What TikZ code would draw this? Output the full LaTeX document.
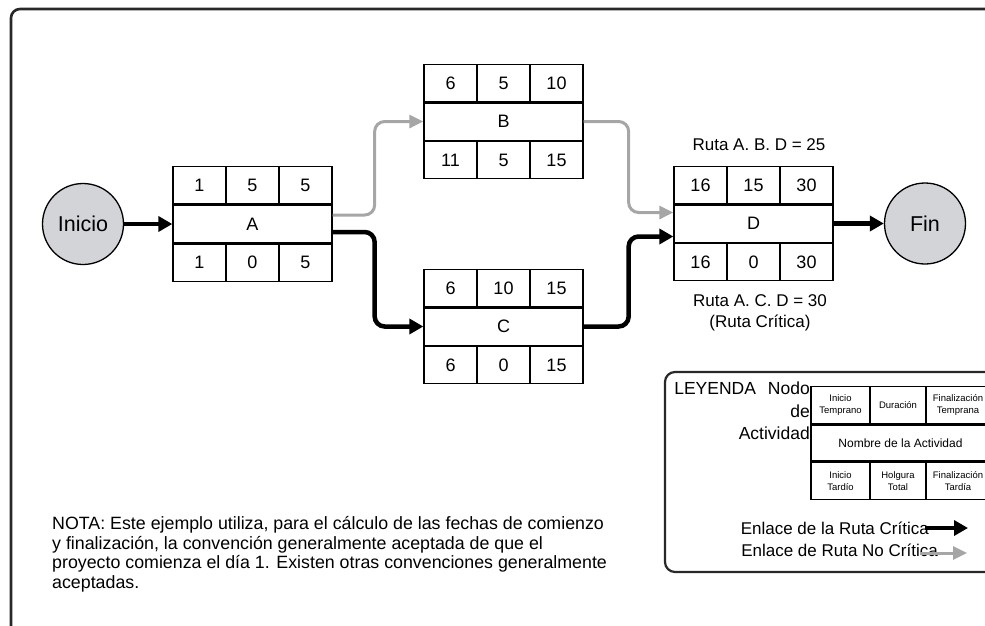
\documentclass[tikz,border=0pt]{standalone}
\usepackage{fontspec}
\setmainfont{Liberation Sans}
\usetikzlibrary{arrows.meta}

\definecolor{circfill}{RGB}{211,212,216}
\definecolor{ncgray}{RGB}{166,166,166}
\definecolor{framecol}{RGB}{40,40,40}

\tikzset{
  cell/.style={draw, line width=1.3pt, minimum width=53pt, minimum height=37.3pt, inner sep=0pt, font=\fontsize{18}{21}\selectfont},
  namecell/.style={cell, minimum width=159pt},
  lcell/.style={draw, line width=1.3pt, minimum height=37pt, inner sep=0pt, align=center, font=\fontsize{9.5}{12}\selectfont},
  event/.style={circle, draw, line width=1.3pt, fill=circfill, minimum size=81pt, inner sep=0pt, font=\fontsize{21.5}{24}\selectfont},
  crit/.style={line width=4.5pt, rounded corners=10pt, -{Triangle[length=14pt,width=15pt]}},
  noncrit/.style={line width=3pt, draw=ncgray, rounded corners=10pt, -{Triangle[length=14pt,width=13pt]}},
  lbl/.style={font=\fontsize{17}{21}\selectfont, inner sep=0pt},
  outerframe/.style={draw=framecol, line width=2.6pt, rounded corners=9pt},
  legframe/.style={draw=framecol, line width=2.2pt, rounded corners=10pt},
}

% name, (x,y), top1, top2, top3, label, bot1, bot2, bot3
\newcommand{\actbox}[9]{%
  \node[namecell] (#1) at #2 {#6};
  \node[cell, anchor=south west] (#1-es) at (#1.north west) {#3};
  \node[cell, anchor=south] (#1-du) at (#1.north) {#4};
  \node[cell, anchor=south east] (#1-ef) at (#1.north east) {#5};
  \node[cell, anchor=north west] (#1-ls) at (#1.south west) {#7};
  \node[cell, anchor=north] (#1-ht) at (#1.south) {#8};
  \node[cell, anchor=north east] (#1-lf) at (#1.south east) {#9};
}

\begin{document}
\begin{tikzpicture}[x=1pt,y=-1pt]
\useasboundingbox (0,0) rectangle (985,625);
\clip (0,0) rectangle (985,625);
\draw[outerframe] (11,9) rectangle (1010,650);

% events
\node[event] (inicio) at (83,224) {Inicio};
\node[event] (fin) at (925,223.5) {Fin};

% activities
\actbox{A}{(252.5,224)}{1}{5}{5}{A}{1}{0}{5}
\actbox{B}{(503.5,121.5)}{6}{5}{10}{B}{11}{5}{15}
\actbox{C}{(503.5,326.5)}{6}{10}{15}{C}{6}{0}{15}
\actbox{D}{(753.5,223.5)}{16}{15}{30}{D}{16}{0}{30}

% links
\draw[crit] (inicio.east) -- (A.west);
\draw[noncrit] ([yshift=9pt]A.east) -- ++(42,0) |- (B.west);
\draw[crit] ([yshift=-8pt]A.east) -- ++(42,0) |- (C.west);
\draw[noncrit] (B.east) -- ++(45,0) |- ([yshift=11pt]D.west);
\draw[crit] (C.east) -- ++(45,0) |- ([yshift=-13pt]D.west);
\draw[crit] (D.east) -- (fin.west);

% route labels
\node[lbl] (rutaB) at (759,145) {Ruta A. B. D = 25};
\node[lbl, align=center] (rutaC) at (760,312.5) {Ruta A. C. D = 30\\(Ruta Crítica)};

% note
\node[lbl, align=left, anchor=north west, font=\fontsize{17.8}{19.8}\selectfont] (nota) at (52,516)
  {NOTA: Este ejemplo utiliza, para el cálculo de las fechas de comienzo\\
   y finalización, la convención generalmente aceptada de que el\\
   proyecto comienza el día 1. Existen otras convenciones generalmente\\
   aceptadas.};

% legend
\draw[legframe] (665,372) rectangle (1010,572);
\node[lbl, align=right, anchor=north east, font=\fontsize{17.5}{22.5}\selectfont] (leglbl) at (810,382)
  {LEYENDA\hspace{12pt}Nodo\\de\\Actividad};
\node[lcell, minimum width=179pt, minimum height=36pt, font=\fontsize{12}{14}\selectfont] (leg) at (900.5,443) {Nombre de la Actividad};
\node[lcell, minimum width=59pt, anchor=south west] (leg-es) at (leg.north west) {Inicio\\Temprano};
\node[lcell, minimum width=56pt, anchor=south west] (leg-du) at ([xshift=59pt]leg.north west) {Duración};
\node[lcell, minimum width=64pt, anchor=south east] (leg-ef) at (leg.north east) {Finalización\\Temprana};
\node[lcell, minimum width=59pt, anchor=north west] (leg-ls) at (leg.south west) {Inicio\\Tardío};
\node[lcell, minimum width=56pt, anchor=north west] (leg-ht) at ([xshift=59pt]leg.south west) {Holgura\\Total};
\node[lcell, minimum width=64pt, anchor=north east] (leg-lf) at (leg.south east) {Finalización\\Tardía};

\node[lbl, anchor=base east] (enlc) at (929,534) {Enlace de la Ruta Crítica};
\node[lbl, anchor=base east] (enlnc) at (938,556) {Enlace de Ruta No Crítica};
\coordinate (critS) at (925,528);
\coordinate (critE) at (968,528);
\coordinate (ncS) at (920,553);
\coordinate (ncE) at (967,553);
\draw[crit] (critS) -- (critE);
\draw[noncrit] (ncS) -- (ncE);
\end{tikzpicture}
\end{document}
